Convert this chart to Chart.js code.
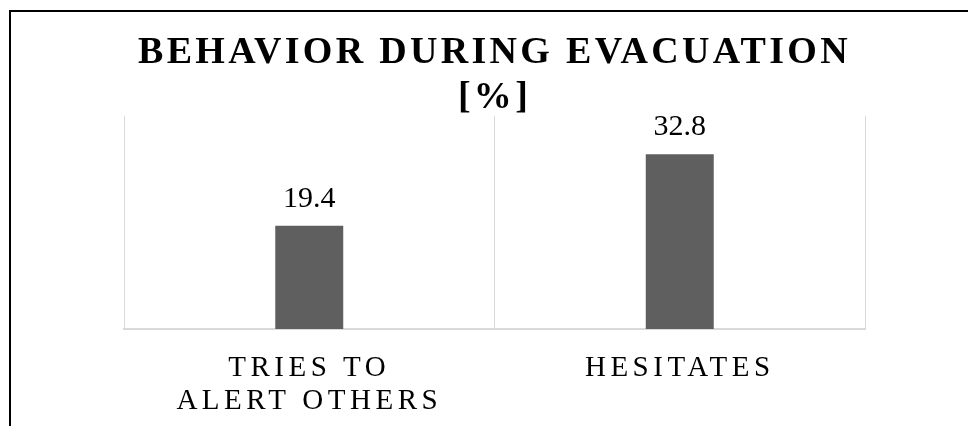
<!DOCTYPE html>
<html>
<head>
<meta charset="utf-8">
<title>Behavior during evacuation</title>
<script src="https://cdn.jsdelivr.net/npm/chart.js@4"></script>
<style>
    html, body { margin: 0; padding: 0; background: #fff; overflow: hidden; }
    #wrap { position: relative; width: 968px; height: 426px; }
    #frame {
        position: absolute; left: 9px; top: 10px; right: -20px; bottom: -20px;
        border-left: 2px solid #000; border-top: 2px solid #000;
        pointer-events: none;
    }
</style>
</head>
<body>
<div id="wrap">
    <canvas id="behaviorChart" width="968" height="426"></canvas>
    <div id="frame"></div>
</div>
<script>
// Data
const categories = [['TRIES TO', 'ALERT OTHERS'], 'HESITATES'];
const shares = [19.4, 32.8];
const titleLines = ['BEHAVIOR DURING EVACUATION', '[%]'];

const serif = '"Liberation Serif", "Times New Roman", serif';
const titleSpacing = '3.3px';
const tickSpacing = '4.5px';

// Letter spacing: title is drawn before the bars, tick labels (z: 1) after them
const spacingPlugin = {
    id: 'spacing',
    beforeUpdate(chart) { chart.ctx.letterSpacing = tickSpacing; },
    beforeDraw(chart) { chart.ctx.letterSpacing = titleSpacing; }
};

// Value labels above each bar
const valueLabels = {
    id: 'valueLabels',
    afterDatasetsDraw(chart) {
        const ctx = chart.ctx;
        const meta = chart.getDatasetMeta(0);
        ctx.save();
        ctx.letterSpacing = '0px';
        ctx.font = '30px ' + serif;
        ctx.fillStyle = '#000';
        ctx.textAlign = 'center';
        ctx.textBaseline = 'alphabetic';
        meta.data.forEach((bar, i) => {
            ctx.fillText(shares[i].toFixed(1), bar.x, bar.y - 19);
        });
        ctx.restore();
        ctx.letterSpacing = tickSpacing;
    }
};

function initializeChart() {
    const ctx = document.getElementById('behaviorChart').getContext('2d');
    new Chart(ctx, {
        type: 'bar',
        data: {
            labels: categories,
            datasets: [{
                data: shares,
                backgroundColor: '#5f5f5f',
                borderWidth: 0,
                barPercentage: 0.1835,
                categoryPercentage: 1
            }]
        },
        options: {
            responsive: false,
            animation: false,
            layout: { padding: { left: 124, right: 103, top: 31, bottom: -15 } },
            plugins: {
                legend: { display: false },
                tooltip: { enabled: false },
                title: {
                    display: true,
                    text: titleLines,
                    color: '#000',
                    font: { family: serif, size: 38, weight: 'bold', lineHeight: 1.184 },
                    padding: { top: 0, bottom: -5 }
                }
            },
            scales: {
                x: {
                    grid: { color: '#d9d9d9', lineWidth: 1, offset: true, drawTicks: false },
                    border: { color: '#d9d9d9', width: 2 },
                    ticks: {
                        z: 1,
                        color: '#000',
                        padding: 23,
                        maxRotation: 0,
                        font: { family: serif, size: 29, lineHeight: 1.14 }
                    }
                },
                y: {
                    display: false,
                    min: 0,
                    max: 40
                }
            }
        },
        plugins: [spacingPlugin, valueLabels]
    });
}

initializeChart();
</script>
</body>
</html>
